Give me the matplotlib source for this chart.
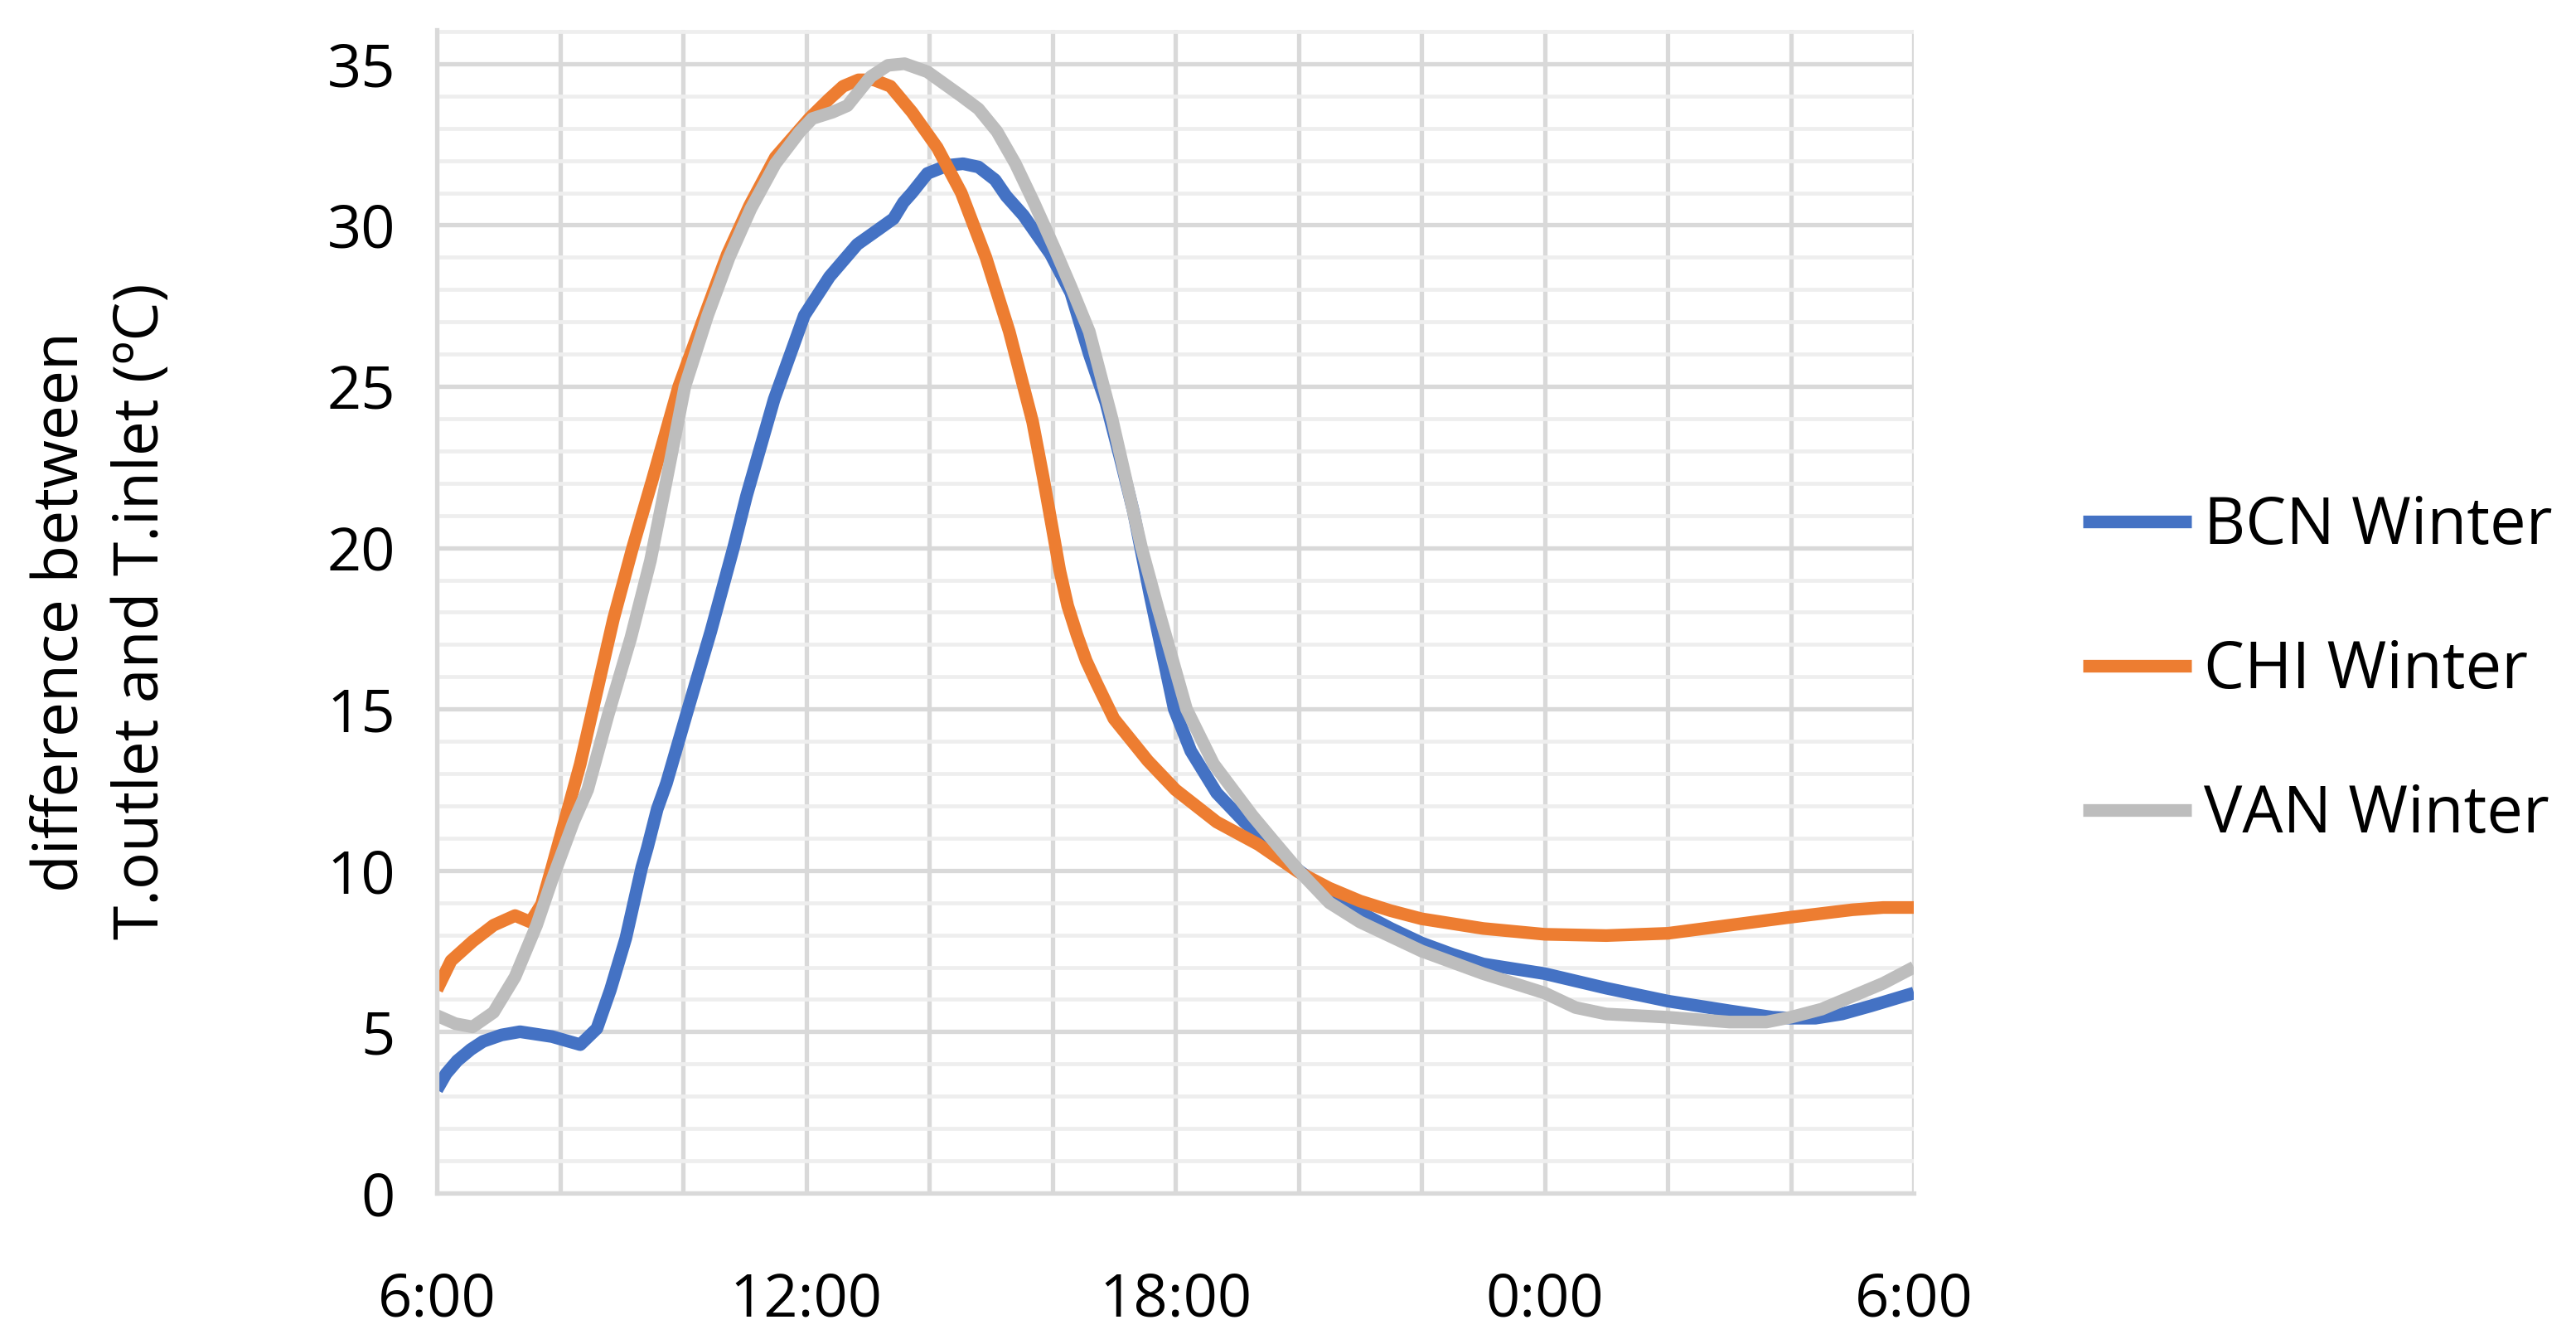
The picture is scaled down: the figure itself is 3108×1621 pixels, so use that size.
import numpy as np
import matplotlib
matplotlib.use('Agg')
import matplotlib.pyplot as plt
from matplotlib.ticker import MultipleLocator, FuncFormatter

plt.rcParams['font.family'] = ['Open Sans', 'DejaVu Sans']

# hours counted from midnight of the first day (6 -> 6:00, 30 -> 6:00 next day)
bcn_t = [6.0, 6.15, 6.33, 6.55, 6.75, 7.05, 7.35, 7.87, 8.33, 8.6, 8.82, 9.07, 9.33, 9.42,
         9.58, 9.73, 10.08, 10.45, 10.82, 11.03, 11.48, 11.97, 12.38, 12.83, 13.2, 13.42,
         13.58, 13.72, 13.97, 14.3, 14.55, 14.8, 15.07, 15.25, 15.53, 15.97, 16.3,
         16.6, 16.87, 17.1, 17.32, 17.58, 17.98, 18.25, 18.67, 19.12, 19.8,
         20.0, 20.5, 21.0, 21.5, 22.0, 22.5, 23.0, 23.5, 24.0, 25.0, 26.0, 27.0, 27.7,
         28.0, 28.4, 28.83, 29.3, 29.65, 30.0]
bcn_v = [3.2, 3.7, 4.1, 4.45, 4.7, 4.9, 5.0, 4.85, 4.6, 5.1, 6.3, 7.9, 10.1, 10.7,
         11.9, 12.7, 15.0, 17.4, 20.0, 21.6, 24.6, 27.2, 28.4, 29.4, 29.9, 30.2,
         30.7, 31.0, 31.6, 31.85, 31.9, 31.8, 31.4, 30.9, 30.3, 29.1, 27.9,
         26.0, 24.5, 22.8, 21.1, 18.6, 15.0, 13.7, 12.4, 11.5, 10.4,
         10.0, 9.3, 8.7, 8.2, 7.75, 7.4, 7.1, 6.95, 6.8, 6.35, 5.95, 5.65, 5.45,
         5.42, 5.42, 5.55, 5.8, 6.0, 6.2]

chi_t = [6.0, 6.23, 6.58, 6.92, 7.27, 7.52, 7.7, 7.87, 8.13, 8.33, 8.57, 8.87, 9.18,
         9.5, 9.93, 10.37, 10.72, 11.08, 11.5, 12.05, 12.37, 12.6, 12.85, 13.1, 13.37,
         13.72, 14.13, 14.52, 14.92, 15.3, 15.68, 15.85, 16.0, 16.12, 16.25, 16.4,
         16.55, 16.72, 17.0, 17.55, 18.0, 18.67, 19.35, 20.0, 20.5, 21.0, 21.5, 22.0,
         23.0, 24.0, 25.0, 26.0, 27.0, 28.0, 29.0, 29.5, 30.0]
chi_v = [6.3, 7.2, 7.8, 8.3, 8.6, 8.4, 8.95, 10.1, 11.9, 13.3, 15.3, 17.8, 20.0,
         22.1, 25.0, 27.3, 29.1, 30.6, 32.1, 33.3, 33.9, 34.3, 34.5, 34.5, 34.3,
         33.5, 32.4, 31.0, 29.0, 26.7, 23.9, 22.2, 20.6, 19.3, 18.2, 17.3,
         16.5, 15.8, 14.7, 13.4, 12.5, 11.5, 10.8, 9.95, 9.45, 9.05, 8.75, 8.5,
         8.2, 8.02, 7.98, 8.05, 8.3, 8.55, 8.78, 8.85, 8.85]

van_t = [6.0, 6.3, 6.58, 6.92, 7.27, 7.62, 7.87, 8.22, 8.45, 8.78, 9.15, 9.47, 9.68,
         10.03, 10.4, 10.75, 11.1, 11.5, 11.9, 12.1, 12.43, 12.67, 13.05, 13.33, 13.6,
         13.97, 14.52, 14.8, 15.1, 15.4, 15.7, 16.03, 16.3, 16.6, 16.97, 17.45, 17.72,
         18.18, 18.62, 19.25, 19.6, 20.0, 20.5, 21.0, 21.5, 22.0, 23.0, 24.0, 24.5,
         25.0, 26.0, 27.0, 27.6, 28.0, 28.5, 29.0, 29.5, 30.0]
van_v = [5.5, 5.25, 5.15, 5.6, 6.7, 8.3, 9.7, 11.5, 12.5, 14.8, 17.2, 19.6, 21.6,
         25.0, 27.2, 29.0, 30.5, 31.9, 32.9, 33.3, 33.5, 33.7, 34.6, 34.95, 35.0,
         34.75, 34.0, 33.6, 32.9, 31.9, 30.7, 29.3, 28.1, 26.7, 24.0, 20.0, 18.1,
         15.0, 13.3, 11.7, 10.9, 10.0, 9.0, 8.4, 7.95, 7.5, 6.8, 6.2, 5.75,
         5.55, 5.45, 5.3, 5.3, 5.45, 5.7, 6.1, 6.5, 7.0]

series_names = ['BCN Winter', 'CHI Winter', 'VAN Winter']
series_colors = ['#4472C4', '#ED7D31', '#BDBDBD']

fig = plt.figure(figsize=(31.08, 16.21), dpi=100)
ax = fig.add_axes([0.1696, 0.1123, 0.5734, 0.8655])

for t, v, name, col in zip([bcn_t, chi_t, van_t], [bcn_v, chi_v, van_v],
                           series_names, series_colors):
    ax.plot(t, v, color=col, lw=11, label=name,
            solid_capstyle='butt', solid_joinstyle='round')

ax.set_xlim(6, 30)
ax.set_ylim(0, 36.05)
ax.xaxis.set_major_locator(MultipleLocator(6))
ax.xaxis.set_minor_locator(MultipleLocator(2))
ax.xaxis.set_major_formatter(FuncFormatter(lambda h, p: f"{int(round(h)) % 24}:00"))
ax.set_yticks(range(0, 36, 5))
ax.yaxis.set_minor_locator(MultipleLocator(1))

ax.grid(which='major', axis='both', color='#d9d9d9', lw=3.8)
ax.grid(which='minor', axis='x', color='#d9d9d9', lw=3.8)
ax.grid(which='minor', axis='y', color='#eeeeee', lw=3.4)
ax.set_axisbelow(True)

for s in ['top', 'right']:
    ax.spines[s].set_visible(False)
for s in ['left', 'bottom']:
    ax.spines[s].set_color('#d9d9d9')
    ax.spines[s].set_linewidth(3.8)

ax.tick_params(which='both', length=0)
ax.tick_params(axis='y', labelsize=52, pad=36, colors='#000000')
ax.tick_params(axis='x', labelsize=52, pad=68, colors='#000000')

fig.text(0.0396, 0.545, 'difference between\nT.outlet and T.inlet (ºC)',
         rotation=90, ha='center', va='center', multialignment='center',
         fontsize=54, linespacing=1.4)

fig.legend(loc='center left', bbox_to_anchor=(0.8086, 0.5005), frameon=False,
           fontsize=56, handlelength=1.68, handletextpad=0.2, labelspacing=1.22,
           borderpad=0, borderaxespad=0)

fig.savefig('out.png', dpi=100)
